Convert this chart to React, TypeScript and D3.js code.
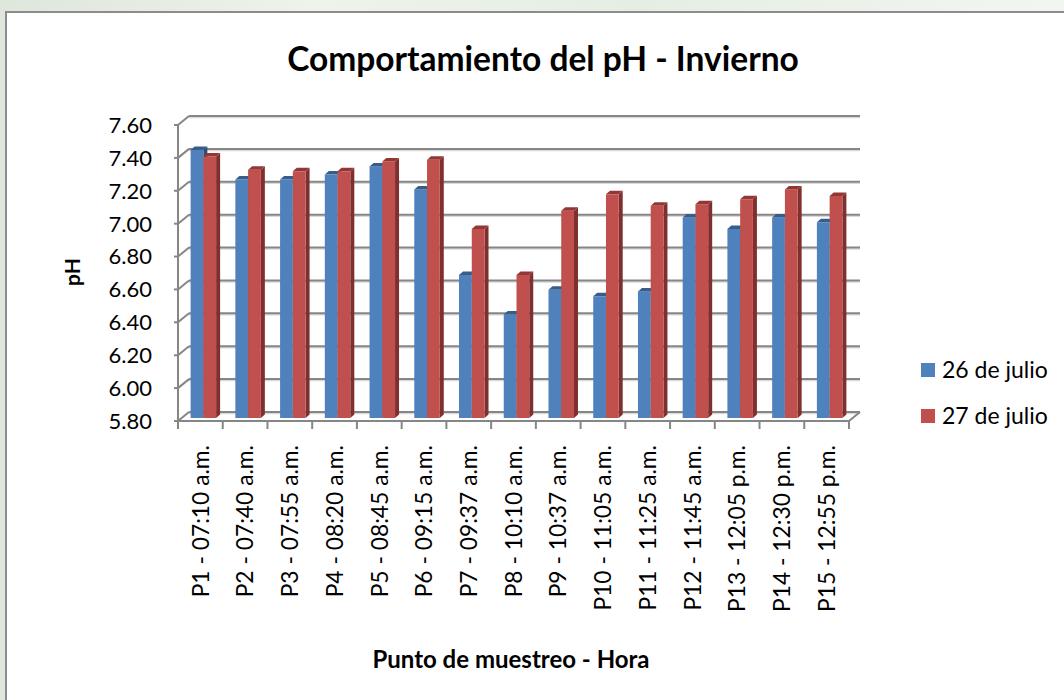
import React from "react";
import * as d3 from "d3";

const categories = [
  "P1 - 07:10 a.m.",
  "P2 - 07:40 a.m.",
  "P3 - 07:55 a.m.",
  "P4 - 08:20 a.m.",
  "P5 - 08:45 a.m.",
  "P6 - 09:15 a.m.",
  "P7 - 09:37 a.m.",
  "P8 - 10:10 a.m.",
  "P9 - 10:37 a.m.",
  "P10 - 11:05 a.m.",
  "P11 - 11:25 a.m.",
  "P12 - 11:45 a.m.",
  "P13 - 12:05 p.m.",
  "P14 - 12:30 p.m.",
  "P15 - 12:55 p.m.",
];
const julio26 = [7.43, 7.25, 7.25, 7.28, 7.33, 7.19, 6.67, 6.43, 6.58, 6.54, 6.57, 7.02, 6.95, 7.02, 6.99];
const julio27 = [7.39, 7.31, 7.30, 7.30, 7.36, 7.37, 6.95, 6.67, 7.06, 7.16, 7.09, 7.10, 7.13, 7.19, 7.15];
const seriesNames = ["26 de julio", "27 de julio"];
const yTicks = [5.8, 6.0, 6.2, 6.4, 6.6, 6.8, 7.0, 7.2, 7.4, 7.6];

const FONT = "Lato, 'Open Sans', sans-serif";

const palette = [
  { front: "#4F81BD", top: "#385D8A", side: "#2E4E75" },
  { front: "#C0504D", top: "#943634", side: "#7F2F2D" },
];

export default function App() {
  const W = 1064;
  const H = 700;
  const x = d3.scaleBand<string>().domain(categories).range([178, 849]).paddingInner(0).paddingOuter(0);
  const y = d3.scaleLinear().domain([5.8, 7.6]).range([421, 125]);
  const bw = x.bandwidth();
  const BACK_DX = 11;
  const BACK_DY = -9;
  const BAR_DX = 3;
  const BAR_DY = -3;
  const barW = bw * 0.285;
  const capDX = 4;
  const capDY = 3.5;
  const x0 = x.range()[0];
  const x1 = x.range()[1];
  const series = [julio26, julio27];

  const bars: JSX.Element[] = [];
  categories.forEach((c, i) => {
    const center = (x(c) as number) + bw / 2;
    series.forEach((vals, s) => {
      const v = vals[i];
      const left = center - barW + s * barW + BAR_DX;
      const right = left + barW;
      const top = y(v) + BAR_DY;
      const base = y(5.8) + BAR_DY;
      const col = palette[s];
      bars.push(
        <g key={`b${i}-${s}`}>
          <polygon
            points={`${right},${top} ${right + capDX},${top - capDY} ${right + capDX},${base - capDY} ${right},${base}`}
            fill={col.side}
          />
          <rect x={left} y={top} width={barW} height={base - top} fill={col.front} />
          <polygon
            points={`${left},${top} ${right},${top} ${right + capDX},${top - capDY} ${left + capDX},${top - capDY}`}
            fill={col.top}
          />
        </g>
      );
    });
  });

  return (
    <svg width={W} height={H} style={{ position: "absolute", left: 0, top: 0 }}>
      <defs>
        <linearGradient id="wm" x1="0" y1="0" x2="1" y2="0">
          <stop offset="0" stopColor="#dfe6dc" />
          <stop offset="0.3" stopColor="#eef3ec" />
          <stop offset="0.6" stopColor="#e6eee4" />
          <stop offset="1" stopColor="#f2f6f1" />
        </linearGradient>
      </defs>
      <rect x={0} y={0} width={W} height={H} fill="url(#wm)" />
      <rect x={6} y={12} width={W + 10} height={H + 10} fill="#ffffff" stroke="#8c8c8c" strokeWidth={2} />

      {/* back wall gridlines + side wall diagonals */}
      {yTicks.map((t) => (
        <g key={`g${t}`}>
          <line x1={x0 + BACK_DX} x2={x1 + BACK_DX} y1={y(t) + BACK_DY + 1.5} y2={y(t) + BACK_DY + 1.5} stroke="#d9d9d9" strokeWidth={1.5} />
          <line x1={x0 + BACK_DX} x2={x1 + BACK_DX} y1={y(t) + BACK_DY} y2={y(t) + BACK_DY} stroke="#868686" strokeWidth={2} />
          <line x1={x0} x2={x0 + BACK_DX} y1={y(t)} y2={y(t) + BACK_DY} stroke="#868686" strokeWidth={2} />
          <line x1={x0 - 4} x2={x0} y1={y(t)} y2={y(t)} stroke="#868686" strokeWidth={2} />
        </g>
      ))}

      {/* floor right edge */}
      <line x1={x1} x2={x1 + BACK_DX} y1={y(5.8)} y2={y(5.8) + BACK_DY} stroke="#868686" strokeWidth={2} />

      {bars}

      {/* front axes */}
      <line x1={x0} x2={x0} y1={y(7.6)} y2={y(5.8)} stroke="#868686" strokeWidth={2} />
      <line x1={x0} x2={x1} y1={y(5.8)} y2={y(5.8)} stroke="#868686" strokeWidth={2} />
      {d3.range(categories.length + 1).map((k) => (
        <line key={`t${k}`} x1={x0 + k * bw} x2={x0 + k * bw} y1={y(5.8)} y2={y(5.8) + 8} stroke="#868686" strokeWidth={2} />
      ))}

      {/* y tick labels */}
      {yTicks.map((t) => (
        <text key={`yl${t}`} x={152} y={y(t)} dy="0.36em" textAnchor="end" fontFamily={FONT} fontSize={22} fill="#000">
          {t.toFixed(2)}
        </text>
      ))}

      {/* x tick labels */}
      {categories.map((c) => (
        <text
          key={`xl${c}`}
          transform={`translate(${(x(c) as number) + bw / 2},445) rotate(-90)`}
          dy="0.36em"
          textAnchor="end"
          fontFamily={FONT}
          fontSize={22.8}
          fill="#000"
        >
          {c}
        </text>
      ))}

      {/* titles */}
      <text x={543} y={71} textAnchor="middle" fontFamily={FONT} fontWeight="bold" fontSize={33.5} fill="#000">
        Comportamiento del pH - Invierno
      </text>
      <text transform={`translate(72,272) rotate(-90)`} textAnchor="middle" dy="0.36em" fontFamily={FONT} fontWeight="bold" fontSize={21} fill="#000">
        pH
      </text>
      <text x={511} y={668} textAnchor="middle" fontFamily={FONT} fontWeight="bold" fontSize={24} fill="#000">
        Punto de muestreo - Hora
      </text>

      {/* legend */}
      {seriesNames.map((n, s) => (
        <g key={`lg${s}`} transform={`translate(921,${363 + s * 46})`}>
          <rect x={0} y={0} width={14} height={14} fill={palette[s].front} />
          <text x={21} y={7} dy="0.36em" fontFamily={FONT} fontSize={23} fill="#000">
            {n}
          </text>
        </g>
      ))}
    </svg>
  );
}
